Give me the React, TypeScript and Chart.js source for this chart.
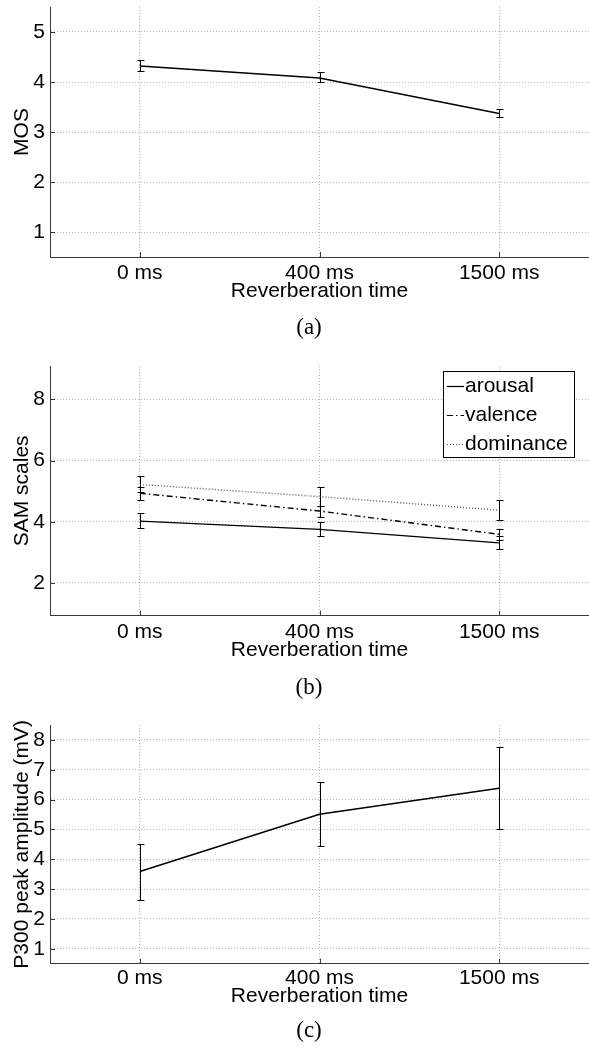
import React, { useEffect, useRef } from 'react';
import { Chart, registerables } from 'chart.js';

Chart.register(...registerables);

// ---------- data ----------
const categories = ['0 ms', '400 ms', '1500 ms'];
const xTitle = 'Reverberation time';

const mosMean = [4.32, 4.08, 3.37];
const mosLow = [4.22, 3.99, 3.29];
const mosHigh = [4.44, 4.2, 3.45];

const arousalMean = [4.02, 3.75, 3.31];
const arousalLow = [3.78, 3.53, 3.1];
const arousalHigh = [4.29, 4.0, 3.53];

const valenceMean = [4.93, 4.35, 3.59];
const valenceLow = [4.71, 4.16, 3.42];
const valenceHigh = [5.14, 4.53, 3.75];

const dominanceMean = [5.22, 4.82, 4.38];
const dominanceLow = [4.96, 4.52, 4.06];
const dominanceHigh = [5.49, 5.12, 4.71];

const p300Mean = [3.59, 5.51, 6.38];
const p300Low = [2.65, 4.44, 5.01];
const p300High = [4.51, 6.59, 7.75];

const mosTicks = [1, 2, 3, 4, 5];
const samTicks = [2, 4, 6, 8];
const p300Ticks = [1, 2, 3, 4, 5, 6, 7, 8];

// ---------- styles ----------
const FONT = { family: '"Liberation Sans", Arial, Helvetica, sans-serif', size: 21 };
const GRID = '#b4b4b4';
const AXIS = '#3a3a3a';

const errorBarPlugin = {
  id: 'errorBars',
  beforeDatasetsDraw(chart: any) {
    const { ctx } = chart;
    const ys = chart.scales.y;
    chart.data.datasets.forEach((ds: any, di: number) => {
      if (!ds.errLow) return;
      const meta = chart.getDatasetMeta(di);
      ctx.save();
      ctx.strokeStyle = '#000';
      ctx.lineWidth = 1;
      ctx.setLineDash([]);
      meta.data.forEach((pt: any, i: number) => {
        const x = Math.round(pt.x) + 0.5;
        const y1 = Math.round(ys.getPixelForValue(ds.errHigh[i])) + 0.5;
        const y2 = Math.round(ys.getPixelForValue(ds.errLow[i])) + 0.5;
        ctx.beginPath();
        ctx.moveTo(x, y1);
        ctx.lineTo(x, y2);
        ctx.moveTo(x - 3, y1);
        ctx.lineTo(x + 4, y1);
        ctx.moveTo(x - 3, y2);
        ctx.lineTo(x + 4, y2);
        ctx.stroke();
      });
      ctx.restore();
    });
  },
};

const inwardTicksPlugin = {
  id: 'inwardTicks',
  afterDraw(chart: any) {
    const { ctx, chartArea } = chart;
    const xs = chart.scales.x;
    const ys = chart.scales.y;
    ctx.save();
    ctx.strokeStyle = AXIS;
    ctx.lineWidth = 1;
    ctx.beginPath();
    xs.ticks.forEach((_: any, i: number) => {
      const x = Math.round(xs.getPixelForTick(i)) + 0.5;
      ctx.moveTo(x, chartArea.bottom);
      ctx.lineTo(x, chartArea.bottom - 5);
    });
    ys.ticks.forEach((_: any, i: number) => {
      const y = Math.round(ys.getPixelForTick(i)) + 0.5;
      ctx.moveTo(chartArea.left, y);
      ctx.lineTo(chartArea.left + 5, y);
    });
    ctx.stroke();
    ctx.restore();
  },
};

const boxLegendPlugin = {
  id: 'boxLegend',
  afterDraw(chart: any) {
    const { ctx, chartArea } = chart;
    const font = `${FONT.size}px ${FONT.family}`;
    ctx.save();
    ctx.font = font;
    const labels = chart.data.datasets.map((d: any) => d.label);
    const textW = Math.max(...labels.map((l: string) => ctx.measureText(l).width));
    const w = Math.round(22 + textW + 6);
    const rowH = 29;
    const h = 86;
    const right = Math.round(chartArea.right - 15);
    const left = right - w;
    const top = Math.round(chartArea.top + 4.7);
    ctx.fillStyle = '#fff';
    ctx.fillRect(left, top, w, h);
    ctx.strokeStyle = '#000';
    ctx.lineWidth = 1;
    ctx.setLineDash([]);
    ctx.strokeRect(left + 0.5, top + 0.5, w, h);
    chart.data.datasets.forEach((ds: any, i: number) => {
      const cy = Math.round(top + 14.5 + i * rowH) + 0.5;
      ctx.save();
      ctx.strokeStyle = ds.borderColor;
      ctx.lineWidth = 1.2;
      ctx.setLineDash(ds.borderDash || []);
      ctx.beginPath();
      ctx.moveTo(left + 4, cy);
      ctx.lineTo(left + 21, cy);
      ctx.stroke();
      ctx.restore();
      ctx.fillStyle = '#000';
      ctx.textBaseline = 'middle';
      ctx.textAlign = 'left';
      ctx.fillText(ds.label, left + 22, cy);
    });
    ctx.restore();
  },
};

type Series = { label: string; mean: number[]; low: number[]; high: number[]; dash: number[]; color: string };
type Spec = {
  top: number;
  height: number;
  padTop: number;
  padBottom: number;
  xHeight: number;
  xTickPad: number;
  xTitlePad: number;
  yMin: number;
  yMax: number;
  yTicks: number[];
  yTitle: string;
  series: Series[];
  legend: boolean;
  caption: string;
  captionTop: number;
};

const panels: Spec[] = [
  {
    top: 0, height: 359, padTop: 7, padBottom: 52, xHeight: 50, xTickPad: 4, xTitlePad: 3,
    yMin: 0.5, yMax: 5.5, yTicks: mosTicks, yTitle: 'MOS',
    series: [{ label: 'MOS', mean: mosMean, low: mosLow, high: mosHigh, dash: [], color: '#000' }],
    legend: false, caption: '(a)', captionTop: 315,
  },
  {
    top: 359, height: 359, padTop: 7, padBottom: 52.3, xHeight: 50, xTickPad: 4, xTitlePad: 3,
    yMin: 0.93, yMax: 9.09, yTicks: samTicks, yTitle: 'SAM scales',
    series: [
      { label: 'arousal', mean: arousalMean, low: arousalLow, high: arousalHigh, dash: [], color: '#000' },
      { label: 'valence', mean: valenceMean, low: valenceLow, high: valenceHigh, dash: [6, 3, 1.5, 3], color: '#000' },
      { label: 'dominance', mean: dominanceMean, low: dominanceLow, high: dominanceHigh, dash: [1, 2], color: '#555' },
    ],
    legend: true, caption: '(b)', captionTop: 316,
  },
  {
    top: 718, height: 330, padTop: 7, padBottom: 36.3, xHeight: 48, xTickPad: 2, xTitlePad: 3,
    yMin: 0.5, yMax: 8.5, yTicks: p300Ticks, yTitle: 'P300 peak amplitude (mV)',
    series: [{ label: 'P300', mean: p300Mean, low: p300Low, high: p300High, dash: [], color: '#000' }],
    legend: false, caption: '(c)', captionTop: 300,
  },
];

function Panel({ spec }: { spec: Spec }) {
  const ref = useRef<HTMLCanvasElement>(null);
  useEffect(() => {
    const plugins: any[] = [errorBarPlugin, inwardTicksPlugin];
    if (spec.legend) plugins.push(boxLegendPlugin);
    const chart = new Chart(ref.current as HTMLCanvasElement, {
      type: 'line',
      data: {
        labels: categories,
        datasets: spec.series.map((s) => ({
          label: s.label,
          data: s.mean,
          errLow: s.low,
          errHigh: s.high,
          borderColor: s.color,
          borderWidth: 1.4,
          borderDash: s.dash,
          pointRadius: 0,
          pointHoverRadius: 0,
          fill: false,
          tension: 0,
        })) as any,
      },
      options: {
        responsive: false,
        animation: false,
        devicePixelRatio: 1,
        layout: { padding: { top: spec.padTop, bottom: spec.padBottom, left: 0, right: 0 } },
        plugins: { legend: { display: false }, tooltip: { enabled: false } },
        scales: {
          x: {
            type: 'category',
            offset: true,
            grid: { color: GRID, drawTicks: false, offset: false, lineWidth: 1 },
            border: { color: AXIS, width: 1, dash: [1, 2] },
            ticks: { padding: spec.xTickPad, color: '#000', font: FONT, maxRotation: 0 },
            title: { display: true, text: xTitle, color: '#000', font: FONT, padding: { top: 0, bottom: spec.xTitlePad } },
            afterFit: (s: any) => {
              s.height = spec.xHeight;
              s.paddingLeft = 0;
              s.paddingRight = 0;
            },
          },
          y: {
            type: 'linear',
            min: spec.yMin,
            max: spec.yMax,
            afterBuildTicks: (s: any) => {
              s.ticks = spec.yTicks.map((v) => ({ value: v }));
            },
            grid: { color: GRID, drawTicks: false, lineWidth: 1 },
            border: { color: AXIS, width: 1, dash: [1, 2] },
            ticks: { padding: 5, color: '#000', font: FONT },
            title: { display: true, text: spec.yTitle, color: '#000', font: FONT, padding: { top: 10, bottom: 0 } },
            afterFit: (s: any) => {
              s.width = 50;
              s.paddingTop = 0;
              s.paddingBottom = 0;
            },
          },
        },
      } as any,
      plugins,
    });
    return () => chart.destroy();
  }, []);
  return (
    <div style={{ position: 'absolute', left: 0, top: spec.top, width: 589, height: spec.height }}>
      <canvas ref={ref} width={589} height={spec.height} style={{ display: 'block', width: 589, height: spec.height }} />
      <div
        style={{
          position: 'absolute',
          top: spec.captionTop,
          left: 309,
          transform: 'translateX(-50%)',
          fontFamily: '"Liberation Serif", "Times New Roman", serif',
          fontSize: 23,
          lineHeight: '23px',
          whiteSpace: 'nowrap',
          color: '#000',
        }}
      >
        {spec.caption}
      </div>
    </div>
  );
}

export default function App() {
  return (
    <div style={{ position: 'fixed', left: 0, top: 0, width: 589, height: 1048, overflow: 'hidden', background: '#fff' }}>
      {panels.map((p) => (
        <Panel key={p.caption} spec={p} />
      ))}
    </div>
  );
}
